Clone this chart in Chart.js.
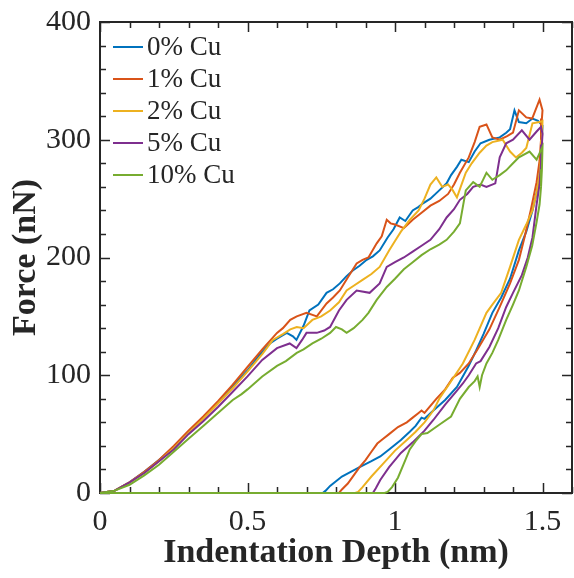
<!DOCTYPE html>
<html>
<head>
<meta charset="utf-8">
<script src="https://cdn.jsdelivr.net/npm/chart.js@4.4.1/dist/chart.umd.min.js"></script>
<style>
  body { margin: 0; background: #fff; }
  canvas { display: block; }
</style>
</head>
<body>
<canvas id="chart" width="574" height="578"></canvas>
<script>
// series labels and colours (MATLAB default order)
const seriesNames = ['0% Cu', '1% Cu', '2% Cu', '5% Cu', '10% Cu'];
const seriesColors = ['#0072BD', '#D95319', '#EDB120', '#7E2F8E', '#77AC30'];

const xMajorTicks = [0, 0.5, 1, 1.5];
const yMajorTicks = [0, 100, 200, 300, 400];

// 0% Cu : loading then unloading (depth nm, force nN)
const cu0Depth = [0, 0.05, 0.1, 0.15, 0.2, 0.25, 0.3, 0.35, 0.4, 0.45, 0.5, 0.54, 0.576, 0.6, 0.633, 0.654, 0.666, 0.69, 0.71, 0.74, 0.768, 0.79, 0.813, 0.835, 0.857, 0.88, 0.904, 0.925, 0.948, 0.975, 0.995, 1.016, 1.035, 1.06, 1.08, 1.095, 1.12, 1.15, 1.175, 1.19, 1.21, 1.225, 1.25, 1.27, 1.29, 1.32, 1.355, 1.377, 1.39, 1.405, 1.42, 1.445, 1.466, 1.485, 1.5,
  1.498, 1.495, 1.49, 1.48, 1.466, 1.445, 1.42, 1.39, 1.36, 1.33, 1.3, 1.275, 1.25, 1.21, 1.17, 1.13, 1.1, 1.09, 1.07, 1.05, 1.02, 0.98, 0.95, 0.92, 0.88, 0.85, 0.82, 0.8, 0.78, 0.765, 0.755, 0];
const cu0Force = [0, 2, 9, 18, 28, 39, 52, 64, 77, 91, 104, 117, 127, 131, 136, 133, 130, 142, 155, 160, 170, 173, 178, 184, 189, 193, 198, 201, 206, 217, 224, 234, 231, 240, 243, 246, 250, 257, 263, 270, 277, 283, 281, 290, 297, 300, 302, 306, 309, 325, 315, 314, 318, 316, 312,
  300, 285, 270, 255, 240, 222, 206, 182, 166, 153, 135, 121, 108, 90, 79, 70, 63, 64, 57, 52, 45, 37, 31, 27, 22, 18, 14, 10, 6, 2, 0, 0];

// 1% Cu
const cu1Depth = [0, 0.05, 0.1, 0.15, 0.2, 0.25, 0.3, 0.35, 0.4, 0.45, 0.5, 0.55, 0.6, 0.62, 0.645, 0.667, 0.7, 0.735, 0.768, 0.79, 0.813, 0.84, 0.87, 0.89, 0.91, 0.938, 0.955, 0.972, 0.985, 1.0, 1.03, 1.06, 1.09, 1.12, 1.15, 1.18, 1.2, 1.22, 1.25, 1.27, 1.287, 1.31, 1.33, 1.355, 1.38, 1.4, 1.42, 1.445, 1.465, 1.49, 1.5,
  1.498, 1.495, 1.49, 1.48, 1.46, 1.44, 1.42, 1.39, 1.355, 1.32, 1.28, 1.25, 1.22, 1.196, 1.17, 1.14, 1.12, 1.1, 1.09, 1.08, 1.06, 1.04, 1.01, 0.98, 0.96, 0.94, 0.92, 0.9, 0.88, 0.86, 0.84, 0.82, 0.81, 0];
const cu1Force = [0, 2, 9, 18, 28, 40, 53, 65, 78, 92, 107, 122, 136, 140, 147, 150, 153, 150, 161, 166, 172, 183, 195, 198, 200, 212, 218, 232, 229, 228, 225, 232, 238, 244, 248, 254, 262, 272, 285, 298, 311, 313, 302, 300, 303, 306, 325, 319, 318, 334, 325,
  318, 300, 282, 264, 240, 218, 198, 178, 158, 139, 122, 110, 102, 98, 88, 80, 74, 68, 70, 68, 64, 60, 56, 50, 46, 42, 35, 28, 22, 15, 8, 3, 0, 0];

// 2% Cu
const cu2Depth = [0, 0.05, 0.1, 0.15, 0.2, 0.25, 0.3, 0.35, 0.4, 0.45, 0.5, 0.55, 0.586, 0.62, 0.645, 0.667, 0.69, 0.72, 0.75, 0.78, 0.81, 0.836, 0.86, 0.89, 0.92, 0.948, 0.98, 1.0, 1.02, 1.05, 1.08, 1.1, 1.12, 1.14, 1.16, 1.18, 1.196, 1.21, 1.24, 1.26, 1.287, 1.31, 1.33, 1.365, 1.39, 1.41, 1.43, 1.445, 1.466, 1.49, 1.5,
  1.498, 1.495, 1.49, 1.48, 1.466, 1.445, 1.42, 1.39, 1.36, 1.33, 1.31, 1.27, 1.23, 1.185, 1.15, 1.13, 1.1, 1.07, 1.04, 1.0, 0.96, 0.92, 0.89, 0.875, 0.865, 0];
const cu2Force = [0, 2, 9, 17, 27, 38, 51, 63, 76, 89, 103, 118, 130, 135, 139, 141, 140, 147, 150, 155, 162, 172, 176, 181, 186, 192, 206, 214, 222, 232, 240, 250, 262, 268, 260, 262, 257, 251, 272, 280, 289, 295, 298, 300, 290, 285, 289, 293, 314, 315, 316,
  300, 285, 270, 255, 240, 228, 215, 192, 170, 160, 153, 130, 110, 93, 80, 70, 60, 52, 45, 36, 25, 14, 5, 1, 0, 0];

// 5% Cu
const cu5Depth = [0, 0.05, 0.1, 0.15, 0.2, 0.25, 0.3, 0.35, 0.4, 0.45, 0.5, 0.55, 0.6, 0.643, 0.666, 0.685, 0.7, 0.735, 0.76, 0.78, 0.81, 0.836, 0.87, 0.914, 0.948, 0.972, 1.0, 1.03, 1.06, 1.09, 1.12, 1.15, 1.175, 1.2, 1.22, 1.245, 1.265, 1.29, 1.31, 1.34, 1.355, 1.377, 1.4, 1.43, 1.456, 1.48, 1.495, 1.5,
  1.498, 1.495, 1.49, 1.48, 1.466, 1.45, 1.43, 1.4, 1.377, 1.35, 1.32, 1.29, 1.275, 1.25, 1.23, 1.21, 1.17, 1.13, 1.1, 1.06, 1.02, 0.98, 0.95, 0.935, 0.925, 0];
const cu5Force = [0, 2, 9, 17, 27, 37, 50, 61, 73, 86, 99, 113, 123, 127, 123, 130, 136, 136, 138, 141, 155, 164, 172, 170, 178, 192, 196, 200, 205, 210, 215, 224, 234, 241, 249, 254, 260, 262, 260, 263, 285, 297, 300, 308, 300, 307, 311, 305,
  296, 280, 262, 245, 217, 200, 185, 170, 158, 140, 124, 112, 110, 100, 93, 87, 75, 62, 53, 43, 34, 22, 11, 4, 0, 0];

// 10% Cu
const cu10Depth = [0, 0.05, 0.1, 0.15, 0.2, 0.25, 0.3, 0.35, 0.4, 0.45, 0.48, 0.5, 0.55, 0.6, 0.63, 0.667, 0.69, 0.72, 0.75, 0.78, 0.8, 0.82, 0.836, 0.86, 0.89, 0.91, 0.938, 0.972, 1.0, 1.03, 1.06, 1.09, 1.12, 1.15, 1.175, 1.2, 1.22, 1.24, 1.265, 1.287, 1.31, 1.33, 1.355, 1.377, 1.4, 1.42, 1.456, 1.48, 1.5,
  1.498, 1.495, 1.49, 1.48, 1.465, 1.445, 1.42, 1.4, 1.377, 1.35, 1.33, 1.31, 1.295, 1.287, 1.28, 1.27, 1.25, 1.22, 1.19, 1.15, 1.11, 1.09, 1.07, 1.05, 1.03, 1.01, 0.99, 0.975, 0.965, 0];
const cu10Force = [0, 2, 7, 15, 24, 35, 46, 57, 68, 79, 84, 88, 99, 108, 112, 119, 122, 127, 131, 136, 141, 139, 136, 140, 147, 153, 164, 175, 182, 190, 196, 202, 207, 211, 215, 222, 229, 257, 264, 260, 272, 266, 270, 274, 280, 285, 290, 283, 294,
  275, 260, 245, 230, 210, 192, 172, 160, 147, 130, 119, 110, 100, 90, 99, 95, 90, 80, 65, 58, 51, 50, 44, 37, 25, 13, 5, 1, 0, 0];

const seriesDepth = [cu0Depth, cu1Depth, cu2Depth, cu5Depth, cu10Depth];
const seriesForce = [cu0Force, cu1Force, cu2Force, cu5Force, cu10Force];

const axisColor = '#262626';
const fontFamily = "'Times New Roman', 'Liberation Serif', serif";

const isMajor = (v, list) => list.some(m => Math.abs(m - v) < 1e-6);

// box around the plot plus inward tick marks on all four sides
const boxTicks = {
  id: 'boxTicks',
  beforeDatasetsDraw(chart) {
    const { ctx, chartArea: a, scales } = chart;
    ctx.save();
    ctx.strokeStyle = axisColor;
    ctx.lineWidth = 2;
    ctx.strokeRect(a.left, a.top, a.right - a.left, a.bottom - a.top);
    ctx.lineWidth = 1.5;
    ctx.beginPath();
    scales.x.ticks.forEach(t => {
      const px = Math.round(scales.x.getPixelForValue(t.value)) + 0.5;
      const len = isMajor(t.value, xMajorTicks) ? 10 : 6;
      ctx.moveTo(px, a.bottom); ctx.lineTo(px, a.bottom - len);
      ctx.moveTo(px, a.top); ctx.lineTo(px, a.top + len);
    });
    scales.y.ticks.forEach(t => {
      const py = Math.round(scales.y.getPixelForValue(t.value)) + 0.5;
      const len = isMajor(t.value, yMajorTicks) ? 10 : 6;
      ctx.moveTo(a.left, py); ctx.lineTo(a.left + len, py);
      ctx.moveTo(a.right, py); ctx.lineTo(a.right - len, py);
    });
    ctx.stroke();
    ctx.restore();
  }
};

// legend in the upper left corner, no frame
const innerLegend = {
  id: 'innerLegend',
  afterDraw(chart) {
    const { ctx } = chart;
    ctx.save();
    ctx.font = '27px ' + fontFamily;
    ctx.textBaseline = 'middle';
    ctx.textAlign = 'left';
    chart.data.datasets.forEach((ds, i) => {
      const y = 47 + i * 32;
      ctx.strokeStyle = ds.borderColor;
      ctx.lineWidth = 2;
      ctx.beginPath();
      ctx.moveTo(113, y); ctx.lineTo(143, y);
      ctx.stroke();
      ctx.fillStyle = axisColor;
      ctx.fillText(ds.label, 147, y + 1);
    });
    ctx.restore();
  }
};

const datasets = seriesNames.map((name, i) => ({
  label: name,
  data: seriesDepth[i].map((d, j) => ({ x: d, y: seriesForce[i][j] })),
  borderColor: seriesColors[i],
  backgroundColor: seriesColors[i],
  borderWidth: 2,
  pointRadius: 0,
  showLine: true,
  tension: 0,
  fill: false,
  clip: false,
  order: seriesNames.length - i
}));

new Chart(document.getElementById('chart'), {
  type: 'scatter',
  data: { datasets },
  options: {
    responsive: false,
    animation: false,
    devicePixelRatio: 1,
    layout: { padding: { top: 22, right: 2, left: 0, bottom: 0 } },
    plugins: { legend: { display: false }, tooltip: { enabled: false } },
    scales: {
      x: {
        type: 'linear',
        min: 0,
        max: 1.6,
        grid: { display: false, drawTicks: false },
        border: { display: false },
        ticks: {
          stepSize: 0.1,
          autoSkip: false,
          maxRotation: 0,
          padding: 11,
          color: axisColor,
          font: { family: fontFamily, size: 30 },
          callback: v => isMajor(v, xMajorTicks) ? String(Math.round(v * 10) / 10) : ''
        },
        title: {
          display: true,
          text: 'Indentation Depth (nm)',
          color: axisColor,
          font: { family: fontFamily, size: 34, weight: 'bold' },
          padding: { top: 0, bottom: 4 }
        },
        afterFit: s => { s.height = 85; s.paddingLeft = 0; s.paddingRight = 0; }
      },
      y: {
        type: 'linear',
        min: 0,
        max: 400,
        grid: { display: false, drawTicks: false },
        border: { display: false },
        ticks: {
          stepSize: 20,
          autoSkip: false,
          padding: 9,
          color: axisColor,
          font: { family: fontFamily, size: 30 },
          callback: v => isMajor(v, yMajorTicks) ? String(v) : ''
        },
        title: {
          display: true,
          text: 'Force (nN)',
          color: axisColor,
          font: { family: fontFamily, size: 34, weight: 'bold' },
          padding: { top: 6, bottom: 0 }
        },
        afterFit: s => { s.width = 100; s.paddingTop = 0; s.paddingBottom = 0; }
      }
    }
  },
  plugins: [boxTicks, innerLegend]
});
</script>
</body>
</html>
